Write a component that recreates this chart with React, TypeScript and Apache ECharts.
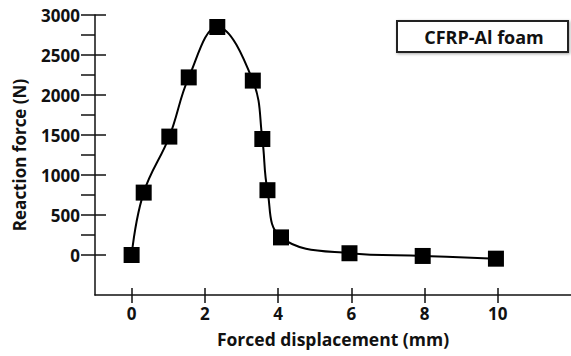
import React, { useEffect, useRef } from "react";
import * as echarts from "echarts";

const displacement = [0, 0.33, 1.03, 1.56, 2.34, 3.31, 3.57, 3.71, 4.08, 5.95, 7.95, 9.95];
const force = [0, 780, 1480, 2220, 2850, 2180, 1450, 810, 220, 22, -12, -46];
const xTicks = [0, 2, 4, 6, 8, 10];
const yLabels = [0, 500, 1000, 1500, 2000, 2500, 3000];
const yTicksOuter = [0, 250, 500, 750, 1000, 1250, 1500, 1750, 2000, 2250, 2500, 2750, 3000];
const legendText = "CFRP-Al foam";
const xTitle = "Forced displacement (mm)";
const yTitle = "Reaction force (N)";

const FONT = "'Open Sans', sans-serif";
const INK = "#111";

export default function App() {
  const ref = useRef<HTMLDivElement>(null);
  useEffect(() => {
    if (!ref.current) return;
    const chart = echarts.init(ref.current, undefined, { renderer: "svg" });
    const xBase = { type: "value", min: -1, max: 12, interval: 1, splitLine: { show: false } };
    const yBase = { type: "value", min: -500, max: 3000, interval: 250, splitLine: { show: false } };
    chart.setOption({
      animation: false,
      backgroundColor: "#fff",
      grid: { left: 95, right: 0, top: 15, bottom: 61 },
      xAxis: [
        {
          ...xBase,
          position: "bottom",
          axisLine: { onZero: false, lineStyle: { color: INK, width: 1.5 } },
          axisTick: { show: true, inside: false, length: 8, customValues: xTicks, lineStyle: { color: INK, width: 1.5 } },
          axisLabel: {
            customValues: xTicks,
            margin: 10,
            color: INK,
            fontSize: 17,
            fontWeight: "bold",
            fontFamily: FONT,
            formatter: (v: number) => String(v),
          },
          name: xTitle,
          nameLocation: "middle",
          nameGap: 35,
          nameTextStyle: { color: INK, fontSize: 17.5, fontWeight: "bold", fontFamily: FONT },
        },
        {
          ...xBase,
          position: "bottom",
          axisLine: { show: false, onZero: false },
          axisTick: { show: true, inside: true, length: 7, customValues: xTicks, lineStyle: { color: INK, width: 1.5 } },
          axisLabel: { show: false },
        },
      ],
      yAxis: [
        {
          ...yBase,
          position: "left",
          axisLine: { show: true, onZero: false, lineStyle: { color: INK, width: 1.5 } },
          axisTick: { show: true, inside: false, length: 14, customValues: yTicksOuter, lineStyle: { color: INK, width: 1.5 } },
          axisLabel: {
            customValues: yLabels,
            margin: 15,
            color: INK,
            fontSize: 17,
            fontWeight: "bold",
            fontFamily: FONT,
            formatter: (v: number) => String(v),
          },
          name: yTitle,
          nameLocation: "middle",
          nameRotate: 90,
          nameGap: 67,
          nameTextStyle: { color: INK, fontSize: 17, fontWeight: "bold", fontFamily: FONT },
        },
        {
          ...yBase,
          position: "left",
          axisLine: { show: false, onZero: false },
          axisTick: { show: true, inside: true, length: 11, customValues: yLabels, lineStyle: { color: INK, width: 1.5 } },
          axisLabel: { show: false },
        },
      ],
      graphic: [
        {
          type: "rect",
          shape: { x: 397, y: 21, width: 171, height: 31 },
          style: {
            fill: "#fff",
            stroke: "#222",
            lineWidth: 2,
            shadowBlur: 3,
            shadowColor: "rgba(0,0,0,0.35)",
            shadowOffsetX: 1,
            shadowOffsetY: 1,
          },
          z: 10,
        },
        {
          type: "text",
          x: 484,
          y: 37,
          style: {
            text: legendText,
            fill: INK,
            fontSize: 18,
            fontWeight: "bold",
            fontFamily: FONT,
            align: "center",
            verticalAlign: "middle",
          },
          z: 11,
        },
      ],
      series: [
        {
          type: "line",
          xAxisIndex: 0,
          yAxisIndex: 0,
          data: displacement.map((x, i) => [x, force[i]]),
          smooth: 0.4,
          symbol: "rect",
          symbolSize: 16,
          itemStyle: { color: "#000" },
          lineStyle: { color: "#000", width: 2 },
        },
      ],
    });
    return () => chart.dispose();
  }, []);
  return <div ref={ref} style={{ width: 571, height: 356, position: "fixed", left: 0, top: 0 }} />;
}
